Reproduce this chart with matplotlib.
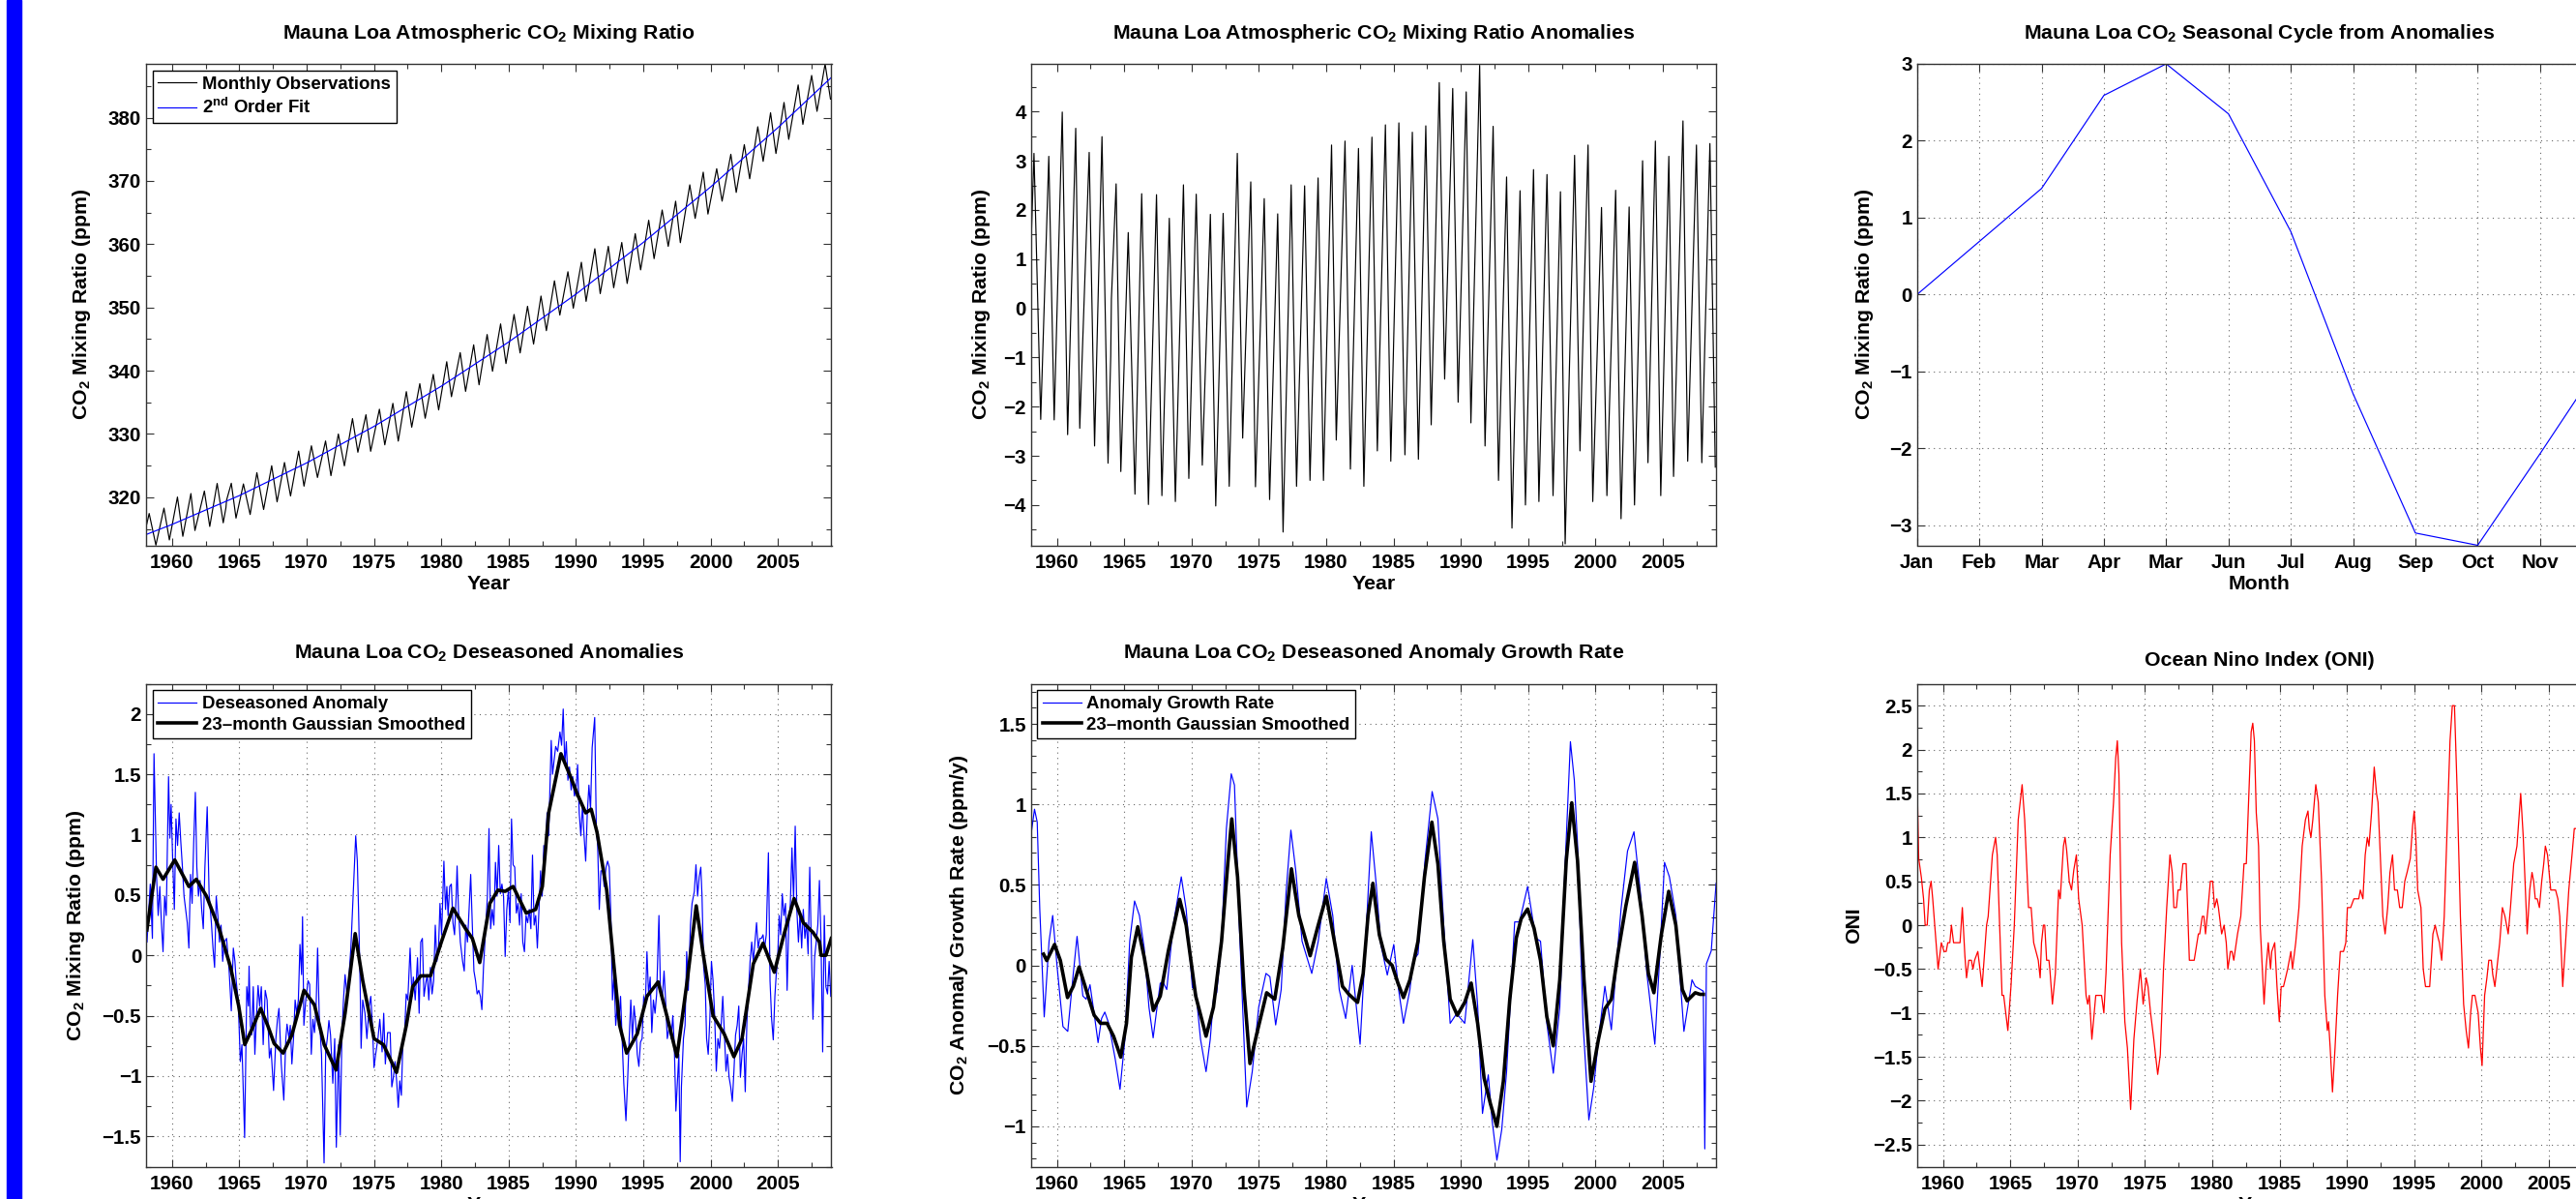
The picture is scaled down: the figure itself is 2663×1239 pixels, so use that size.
# Mauna Loa CO2 six panel figure (MATLAB style look)
import matplotlib
matplotlib.use("Agg")
import matplotlib.pyplot as plt
from matplotlib import font_manager
from matplotlib.patches import Rectangle
from matplotlib.ticker import MultipleLocator, FuncFormatter, FixedLocator

# ---------------- data ----------------

# panel 1 : 2nd order fit, read at a few years
fit_year = [1958.07, 1960, 1965, 1970, 1975, 1980, 1985, 1990, 1995, 2000, 2005, 2008.97]
fit_ppm = [314.1, 315.70, 320.26, 325.43, 331.20, 337.56, 344.54, 352.11, 360.28, 369.05, 378.43, 386.37]

# panels 1 and 2 : seasonal maxima / minima of the monthly record
obs_year = [1958.12, 1958.3, 1958.8, 1959.4, 1959.8, 1960.4, 1960.8, 1961.4, 1961.7, 1962.4, 1962.8,
            1963.35, 1963.8, 1964.0, 1964.05, 1964.4, 1964.75, 1965.3, 1965.8, 1966.3, 1966.8,
            1967.4, 1967.8, 1968.35, 1968.8, 1969.4, 1969.8, 1970.35, 1970.8, 1971.4, 1971.8,
            1972.35, 1972.8, 1973.4, 1973.8, 1974.4, 1974.75, 1975.4, 1975.8, 1976.4, 1976.8,
            1977.4, 1977.8, 1978.4, 1978.8, 1979.4, 1979.8, 1980.4, 1980.75, 1981.4, 1981.8,
            1982.4, 1982.8, 1983.4, 1983.8, 1984.4, 1984.8, 1985.4, 1985.85, 1986.4, 1986.85,
            1987.4, 1987.8, 1988.4, 1988.8, 1989.4, 1989.8, 1990.4, 1990.75, 1991.4, 1991.8,
            1992.4, 1992.8, 1993.4, 1993.8, 1994.4, 1994.8, 1995.4, 1995.8, 1996.4, 1996.85,
            1997.4, 1997.75, 1998.45, 1998.85, 1999.45, 1999.8, 2000.45, 2000.85, 2001.5, 2001.9,
            2002.5, 2002.9, 2003.5, 2003.9, 2004.45, 2004.85, 2005.45, 2005.8, 2006.5, 2006.85,
            2007.5, 2007.9, 2008.5, 2008.9]
obs_ppm = [315.74, 317.43, 312.43, 318.28, 313.25, 320.03, 313.82, 320.58, 314.74, 320.98, 315.38,
           322.18, 315.96, 318.32, 319.54, 322.21, 316.70, 322.10, 317.27, 323.88, 318.06,
           324.98, 319.27, 325.49, 320.20, 327.29, 321.75, 328.13, 323.12, 328.89, 323.41,
           329.99, 324.96, 332.43, 327.11, 333.04, 327.26, 333.91, 328.28, 334.84, 328.87,
           336.69, 331.07, 337.95, 332.48, 339.42, 333.80, 341.42, 335.89, 342.86, 336.73,
           344.09, 337.77, 345.72, 339.91, 347.40, 341.13, 348.89, 342.81, 350.18, 344.21,
           351.80, 346.33, 354.21, 348.79, 355.64, 349.88, 357.14, 350.96, 359.28, 352.18,
           359.66, 353.11, 360.27, 353.79, 361.66, 355.94, 363.78, 357.71, 365.40, 359.65,
           366.79, 360.24, 369.38, 364.08, 371.38, 364.76, 371.93, 366.80, 374.21, 368.18,
           375.73, 370.34, 378.56, 373.09, 380.77, 374.33, 382.40, 376.57, 385.17, 378.94,
           386.67, 381.00, 388.50, 382.93]
anom_ppm = [1.60, 3.15, -2.26, 3.09, -2.27, 3.99, -2.57, 3.66, -2.44, 3.17, -2.80,
            3.49, -3.15, -0.98, 0.19, 2.53, -3.32, 1.54, -3.78, 2.33, -3.99,
            2.31, -3.81, 1.83, -3.93, 2.51, -3.46, 2.32, -3.19, 1.91, -4.02,
            1.93, -3.62, 3.15, -2.64, 2.57, -3.63, 2.23, -3.89, 1.92, -4.55,
            2.51, -3.62, 2.49, -3.50, 2.65, -3.50, 3.32, -2.68, 3.40, -3.27,
            3.25, -3.62, 3.48, -2.90, 3.73, -3.11, 3.77, -2.98, 3.58, -3.07,
            3.71, -2.37, 4.59, -1.44, 4.47, -1.91, 4.40, -2.33, 4.94, -2.80,
            3.70, -3.50, 2.67, -4.47, 2.39, -4.00, 2.82, -3.93, 2.72, -3.81,
            2.37, -4.79, 3.11, -2.90, 3.32, -3.93, 2.05, -3.81, 2.40, -4.28,
            2.06, -4.00, 3.00, -3.14, 3.40, -3.81, 3.09, -3.42, 3.81, -3.11,
            3.32, -3.14, 3.35, -3.23]

# panel 3 : mean seasonal cycle
months = ['Jan', 'Feb', 'Mar', 'Apr', 'Mar', 'Jun', 'Jul', 'Aug', 'Sep', 'Oct', 'Nov', 'Dec']
season = [0.0, 0.69, 1.38, 2.59, 3.0, 2.35, 0.82, -1.29, -3.10, -3.26, -2.07, -0.85]

# panel 4 : deseasoned anomaly (blue) and smoothed (black)
des_year = [1958.14, 1958.38, 1958.54, 1958.66, 1958.85, 1958.97, 1959.09, 1959.21, 1959.33, 1959.45,
            1959.57, 1959.74, 1959.84, 1959.93, 1960.05, 1960.17, 1960.29, 1960.41, 1960.53, 1960.65,
            1960.77, 1960.89, 1961.01, 1961.13, 1961.25, 1961.37, 1961.49, 1961.61, 1961.73, 1961.84,
            1961.96, 1962.08, 1962.20, 1962.32, 1962.44, 1962.61, 1962.75, 1962.92, 1963.04, 1963.16,
            1963.28, 1963.40, 1963.52, 1963.64, 1963.76, 1963.88, 1964.05, 1964.24, 1964.40, 1964.55,
            1964.67, 1964.76, 1964.91, 1965.07, 1965.19, 1965.39, 1965.55, 1965.67, 1965.72, 1965.82,
            1965.91, 1966.03, 1966.15, 1966.27, 1966.39, 1966.51, 1966.63, 1966.77, 1966.92, 1967.06,
            1967.23, 1967.35, 1967.54, 1967.71, 1967.83, 1967.94, 1968.11, 1968.30, 1968.45, 1968.54,
            1968.69, 1968.78, 1968.90, 1969.02, 1969.14, 1969.26, 1969.38, 1969.50, 1969.62, 1969.69,
            1969.79, 1969.93, 1970.10, 1970.22, 1970.34, 1970.46, 1970.58, 1970.70, 1970.81, 1970.93,
            1971.10, 1971.29, 1971.41, 1971.53, 1971.65, 1971.77, 1971.94, 1972.08, 1972.20, 1972.37,
            1972.49, 1972.61, 1972.73, 1972.85, 1972.97, 1973.09, 1973.28, 1973.45, 1973.64, 1973.76,
            1973.85, 1973.97, 1974.04, 1974.16, 1974.33, 1974.47, 1974.64, 1974.76, 1974.88, 1975.00,
            1975.12, 1975.29, 1975.43, 1975.60, 1975.72, 1975.84, 1976.01, 1976.20, 1976.32, 1976.44,
            1976.56, 1976.68, 1976.80, 1976.91, 1977.03, 1977.15, 1977.27, 1977.39, 1977.51, 1977.68,
            1977.82, 1977.92, 1978.06, 1978.23, 1978.35, 1978.47, 1978.59, 1978.71, 1978.83, 1978.95,
            1979.07, 1979.19, 1979.31, 1979.43, 1979.55, 1979.67, 1979.79, 1979.90, 1980.02, 1980.19,
            1980.31, 1980.41, 1980.50, 1980.62, 1980.74, 1980.86, 1980.98, 1981.10, 1981.17, 1981.27,
            1981.41, 1981.58, 1981.70, 1981.82, 1981.94, 1982.06, 1982.18, 1982.30, 1982.42, 1982.54,
            1982.66, 1982.78, 1982.90, 1983.01, 1983.13,
            1983.30, 1983.42, 1983.54, 1983.66, 1983.78, 1983.90, 1984.02, 1984.14, 1984.26, 1984.38,
            1984.50, 1984.62, 1984.74, 1984.86, 1984.98, 1985.10, 1985.21, 1985.33, 1985.45, 1985.57,
            1985.69, 1985.81, 1985.93, 1986.05, 1986.17, 1986.29, 1986.41, 1986.53, 1986.65, 1986.77,
            1986.89, 1987.01, 1987.13, 1987.25, 1987.37, 1987.49, 1987.61, 1987.73, 1987.85, 1987.97,
            1988.16, 1988.26, 1988.40, 1988.49, 1988.64, 1988.81, 1988.93, 1989.05, 1989.17, 1989.28,
            1989.40, 1989.52, 1989.64, 1989.76, 1989.88, 1990.00, 1990.12, 1990.24, 1990.36, 1990.48,
            1990.60, 1990.72, 1990.84, 1990.96, 1991.08, 1991.20, 1991.39, 1991.51, 1991.61, 1991.73,
            1991.85, 1991.99, 1992.09, 1992.23, 1992.35, 1992.47, 1992.59, 1992.71, 1992.83, 1992.95,
            1993.07, 1993.19, 1993.31, 1993.43, 1993.55, 1993.71, 1993.83, 1993.95, 1994.07, 1994.19,
            1994.31, 1994.43, 1994.55, 1994.67, 1994.79, 1994.91, 1995.03, 1995.15, 1995.27, 1995.39,
            1995.51, 1995.63, 1995.75, 1995.87, 1995.99, 1996.16, 1996.28, 1996.40, 1996.54, 1996.63,
            1996.78, 1996.95, 1997.07, 1997.19, 1997.30, 1997.42, 1997.54, 1997.64, 1997.74, 1997.83,
            1997.98, 1998.10, 1998.22, 1998.34, 1998.50, 1998.62, 1998.79, 1998.91, 1999.03, 1999.15,
            1999.27, 1999.36, 1999.48, 1999.60, 1999.70, 1999.82, 1999.94, 2000.06, 2000.18, 2000.30,
            2000.42, 2000.54, 2000.66, 2000.78, 2000.90, 2001.02, 2001.14, 2001.25, 2001.37, 2001.49,
            2001.61, 2001.73, 2001.85, 2001.97, 2002.09, 2002.21, 2002.33, 2002.45, 2002.57, 2002.69,
            2002.81, 2002.93, 2003.05, 2003.17, 2003.29, 2003.41, 2003.53, 2003.65, 2003.77, 2003.89,
            2004.01, 2004.13, 2004.29, 2004.41, 2004.53, 2004.65, 2004.77, 2004.87, 2004.97, 2005.09,
            2005.20, 2005.32, 2005.44, 2005.56, 2005.68, 2005.80, 2005.92, 2006.04, 2006.16, 2006.28,
            2006.40, 2006.52, 2006.64, 2006.76, 2006.88, 2007.00, 2007.12, 2007.24, 2007.36, 2007.48,
            2007.60, 2007.72, 2007.84, 2007.96, 2008.08, 2008.20, 2008.32, 2008.44, 2008.56, 2008.68,
            2008.80, 2008.92]
des_ppm = [0.11, 0.59, 0.14, 1.67, 0.65, 0.33, 0.57, 0.27, 0.03, 0.49,
           0.33, 1.48, 0.97, 1.25, 0.78, 0.38, 1.13, 0.91, 1.18, 0.94,
           0.73, 0.49, 0.38, 0.27, 0.06, 0.67, 0.43, 0.94, 1.35, 0.73,
           0.49, 0.62, 0.38, 0.22, 0.73, 1.23, 0.51, 0.27, 0.06, -0.10,
           0.49, 0.33, 0.11, 0.25, -0.05, 0.11, 0.14, -0.13, -0.46, 0.06,
           -0.05, -0.21, -0.37, -0.88, -0.74, -1.51, -0.26, -0.42, -0.09, -0.58,
           -0.66, -0.26, -0.82, -0.50, -0.25, -0.42, -0.26, -0.74, -0.29, -0.37,
           -0.85, -0.77, -1.12, -0.69, -0.53, -0.44, -0.90, -1.20, -0.69, -0.57,
           -0.69, -0.58, -0.90, -0.69, -0.37, -0.48, -0.37, 0.09, -0.16, 0.32,
           -0.58, -0.37, -0.21, -0.24, -0.82, -0.53, -0.64, -0.42, 0.06, -0.50,
           -0.82, -1.72, -0.80, -0.69, -0.54, -0.66, -1.06, -0.69, -1.59, -0.74,
           -1.49, -0.69, -0.37, -0.16, -0.30, -0.26, 0.06, 0.49, 0.99, 0.78,
           0.38, -0.24, -0.77, -0.37, -0.48, -0.69, -0.42, -0.34, -0.58, -0.93,
           -0.82, -0.69, -0.53, -0.80, -0.48, -0.90, -0.64, -0.64, -1.09, -1.01,
           -0.88, -1.04, -1.26, -1.04, -1.16, -0.69, -0.66, -0.32, -0.37, 0.06,
           -0.34, -0.18, -0.37, -0.02, -0.48, 0.11, 0.14, -0.34, -0.24, -0.16,
           -0.37, -0.10, -0.32, -0.21, 0.25, -0.05, 0.06, 0.43, 0.17, 0.78,
           0.38, 0.57, 0.33, 0.57, 0.59, 0.27, 0.17, 0.49, 0.74, 0.38,
           0.11, -0.05, -0.13, 0.25, 0.11, 0.38, 0.67, 0.25, -0.13, -0.21,
           -0.32, -0.29, -0.34, -0.45, -0.10,
           0.25, 0.49, 1.05, 0.22, 0.38, 0.25, 0.77, 0.49, 0.91, 0.51,
           0.59, 0.49, -0.01, 0.38, 0.54, 0.27, 1.13, 0.75, 0.73, 0.35,
           0.43, 0.25, 0.51, 0.11, 0.03, 0.33, 0.27, 0.38, 0.22, 0.83,
           0.25, 0.33, 0.06, 0.38, 0.70, 0.49, 0.91, 0.83, 1.18, 0.99,
           1.78, 1.50, 1.64, 1.73, 1.69, 1.85, 1.74, 2.04, 1.58, 1.77,
           1.45, 1.56, 1.37, 1.48, 1.32, 1.37, 1.58, 1.18, 0.99, 1.24,
           0.99, 0.78, 1.18, 1.41, 1.21, 1.72, 1.97, 1.05, 0.91, 0.38,
           0.70, 0.70, 0.57, 0.73, 0.78, 0.73, 0.33, -0.37, -0.16, -0.58,
           -0.42, -0.56, -0.34, -0.69, -1.06, -1.37, -1.05, -0.69, -0.37, -0.69,
           -0.42, -0.56, -0.82, -0.92, -0.72, -0.69, -0.34, -0.42, 0.03, -0.32,
           -0.18, -0.64, -0.37, -0.48, -0.32, 0.33, -0.32, -0.37, -0.13, -0.32,
           -0.69, -0.58, -0.69, -0.50, -0.74, -1.29, -1.04, -0.82, -1.71, -1.09,
           -0.69, -0.58, 0.03, -0.29, 0.25, 0.43, 0.53, 0.75, 0.49, 0.65,
           0.73, 0.49, -0.10, -0.24, -0.69, -0.82, -0.53, -0.05, -0.21, -0.50,
           -0.96, -0.69, -0.77, -0.58, -0.34, -0.64, -0.96, -0.82, -1.01, -1.09,
           -1.21, -0.96, -0.66, -0.58, -0.42, -1.01, -0.82, -0.69, -1.13, -0.56,
           -0.29, -0.05, 0.11, -0.05, 0.11, 0.27, 0.06, 0.14, 0.14, 0.17,
           0.06, 0.17, 0.85, -0.21, -0.53, -0.70, -0.34, -0.16, -0.05, 0.33,
           0.17, 0.51, 0.33, 0.43, -0.29, 0.25, 0.43, 0.89, 0.46, 1.07,
           0.38, 0.11, 0.35, 0.06, 0.38, 0.14, 0.27, 0.01, 0.73, 0.06,
           -0.53, -0.02, 0.11, 0.25, 0.62, 0.11, -0.80, 0.33, -0.26, -0.32,
           -0.05, -0.34]

smo_year = [1958.13, 1958.8, 1959.33, 1960.2, 1961.25, 1961.8, 1962.56, 1963.5, 1964.35, 1964.95,
            1965.4, 1965.9, 1966.58, 1967.1, 1967.58, 1968.25, 1968.9, 1969.8, 1970.57, 1971.3,
            1972.18, 1972.85, 1973.6, 1974.16, 1975.0, 1975.7, 1976.67, 1977.4, 1977.87, 1978.47,
            1979.19, 1980.0, 1980.86, 1981.8, 1982.3, 1982.85, 1983.6, 1984.2, 1984.74, 1985.33,
            1986.3, 1987.0, 1987.5, 1987.97, 1988.88, 1989.52, 1990.12, 1990.72, 1991.13, 1991.56,
            1992.28, 1992.88, 1993.24, 1993.76, 1994.55, 1995.27, 1996.1, 1996.7, 1997.5, 1998.26,
            1998.93, 1999.46, 2000.18, 2001.0, 2001.73, 2002.33, 2003.17, 2003.89, 2004.73, 2005.44,
            2006.2, 2006.88, 2007.6, 2008.08, 2008.2, 2008.56, 2008.96]
smo_ppm = [0.21, 0.73, 0.63, 0.79, 0.57, 0.63, 0.49, 0.22, -0.10, -0.42,
           -0.74, -0.62, -0.44, -0.58, -0.73, -0.81, -0.66, -0.29, -0.41, -0.74,
           -0.95, -0.48, 0.18, -0.21, -0.69, -0.74, -0.97, -0.58, -0.26, -0.17,
           -0.17, 0.11, 0.39, 0.22, 0.14, -0.06, 0.43, 0.54, 0.53, 0.57,
           0.35, 0.38, 0.57, 1.18, 1.67, 1.50, 1.33, 1.18, 1.21, 1.02,
           0.54, -0.16, -0.58, -0.81, -0.65, -0.34, -0.22, -0.48, -0.84, -0.21,
           0.41, 0.0, -0.50, -0.65, -0.84, -0.69, -0.07, 0.10, -0.14, 0.17,
           0.47, 0.27, 0.19, 0.11, 0.0, 0.0, 0.14]

# panel 5 : growth rate of the deseasoned anomaly (blue) and smoothed (black)
gr_year = [1958.06, 1958.34, 1958.54, 1958.73, 1959.06, 1959.42, 1959.69, 1960.02, 1960.45, 1960.81,
           1961.22, 1961.50, 1961.93, 1962.17, 1962.46, 1962.77, 1963.06, 1963.32, 1963.56, 1963.85,
           1964.33, 1964.69, 1965.05, 1965.41, 1965.77, 1966.13, 1966.48, 1966.84, 1967.15, 1967.44,
           1967.68, 1967.92, 1968.16, 1968.64, 1969.24, 1969.60, 1970.07, 1970.31, 1970.67, 1971.08,
           1971.39, 1971.63, 1971.87, 1972.23, 1972.59, 1972.95, 1973.19, 1973.55, 1974.10, 1974.51,
           1974.99, 1975.53, 1975.82, 1976.25, 1976.66, 1977.02, 1977.38, 1977.74, 1978.21, 1978.93,
           1979.41, 1980.01, 1980.49, 1980.97, 1981.45, 1981.93, 1982.24, 1982.52, 1982.87, 1983.35,
           1983.71, 1984.06, 1984.54, 1985.02, 1985.38, 1985.74, 1986.22, 1986.46, 1986.82, 1987.34,
           1987.87, 1988.30, 1988.73, 1989.21, 1989.69, 1990.29, 1990.89, 1991.25, 1991.61, 1992.04,
           1992.32, 1992.68, 1993.04, 1993.40, 1994.00, 1994.36, 1994.96, 1995.56, 1995.92, 1996.39,
           1996.87, 1997.35, 1997.71, 1998.14, 1998.43, 1998.67, 1999.08, 1999.51, 1999.87, 2000.22,
           2000.70, 2001.18, 2001.54, 2001.90, 2002.38, 2002.86, 2003.34, 2003.82, 2004.41, 2004.77,
           2005.13, 2005.49, 2005.97, 2006.26, 2006.57, 2007.17, 2007.41, 2008.01, 2008.12, 2008.24,
           2008.60, 2008.96]
gr_rate = [0.80, 0.97, 0.89, 0.35, -0.32, 0.15, 0.31, -0.01, -0.38, -0.41,
           -0.05, 0.18, -0.19, -0.21, -0.12, -0.30, -0.48, -0.33, -0.29, -0.36,
           -0.58, -0.77, -0.46, 0.15, 0.40, 0.31, 0.11, -0.26, -0.45, -0.26,
           -0.11, -0.11, -0.15, 0.25, 0.55, 0.35, -0.14, -0.15, -0.46, -0.66,
           -0.46, -0.21, -0.17, 0.15, 0.85, 1.19, 1.12, 0.25, -0.88, -0.66,
           -0.26, -0.05, -0.07, -0.37, -0.15, 0.45, 0.84, 0.59, 0.15, -0.05,
           0.15, 0.54, 0.31, -0.15, -0.33, 0.00, -0.26, -0.49, 0.05, 0.83,
           0.51, 0.13, -0.06, 0.13, -0.15, -0.36, -0.15, 0.03, 0.07, 0.65,
           1.08, 0.91, 0.25, -0.36, -0.30, -0.36, 0.16, -0.25, -0.92, -0.68,
           -0.96, -1.21, -1.02, -0.66, 0.27, 0.27, 0.49, 0.17, 0.15, -0.36,
           -0.67, -0.26, 0.55, 1.39, 1.15, 0.75, -0.36, -0.96, -0.76, -0.46,
           -0.13, -0.40, -0.01, 0.35, 0.71, 0.83, 0.45, -0.05, -0.49, 0.05,
           0.64, 0.55, 0.31, -0.05, -0.41, -0.09, -0.13, -0.16, -1.14, 0.01,
           0.09, 0.51]

grs_year = [1959.01, 1959.25, 1959.83, 1960.26, 1960.79, 1961.22, 1961.65, 1962.17, 1962.77, 1963.25,
            1963.73, 1964.21, 1964.74, 1965.17, 1965.53, 1966.01, 1966.49, 1967.16, 1967.68, 1968.28,
            1969.12, 1969.60, 1970.31, 1971.08, 1971.63, 1972.23, 1972.71, 1972.99, 1973.42, 1973.90,
            1974.34, 1974.86, 1975.58, 1976.18, 1976.78, 1977.42, 1977.97, 1978.81, 1979.41, 1980.01,
            1980.61, 1981.21, 1981.69, 1982.33, 1982.75, 1983.11, 1983.47, 1983.95, 1984.42, 1984.90,
            1985.33, 1985.74, 1986.22, 1986.82, 1987.30, 1987.85, 1988.30, 1988.73, 1989.21, 1989.74,
            1990.29, 1990.77, 1991.25, 1991.73, 1992.20, 1992.68, 1993.16, 1993.64, 1994.12, 1994.48,
            1994.96, 1995.44, 1995.92, 1996.39, 1996.87, 1997.35, 1997.83, 1998.24, 1998.67, 1999.15,
            1999.67, 2000.22, 2000.70, 2001.18, 2001.66, 2002.26, 2002.91, 2003.46, 2003.93, 2004.34,
            2004.89, 2005.44, 2005.97, 2006.45, 2006.81, 2007.41, 2007.77, 2008.01]
grs_rate = [0.07, 0.03, 0.13, 0.03, -0.20, -0.13, -0.01, -0.15, -0.31, -0.36,
            -0.36, -0.44, -0.57, -0.36, 0.05, 0.24, 0.05, -0.28, -0.19, 0.09,
            0.41, 0.25, -0.19, -0.44, -0.26, 0.15, 0.65, 0.91, 0.55, -0.15,
            -0.61, -0.42, -0.17, -0.21, 0.11, 0.60, 0.31, 0.06, 0.25, 0.43,
            0.15, -0.13, -0.18, -0.23, -0.05, 0.31, 0.51, 0.19, 0.04, 0.00,
            -0.11, -0.20, -0.09, 0.15, 0.55, 0.89, 0.63, 0.15, -0.21, -0.31,
            -0.23, -0.11, -0.36, -0.70, -0.86, -1.00, -0.72, -0.21, 0.17, 0.29,
            0.35, 0.23, 0.03, -0.32, -0.50, -0.09, 0.65, 1.01, 0.65, -0.09,
            -0.72, -0.46, -0.27, -0.21, 0.07, 0.37, 0.64, 0.31, -0.05, -0.17,
            0.19, 0.46, 0.25, -0.15, -0.22, -0.17, -0.18, -0.18]

# panel 6 : Ocean Nino Index
oni_year = [1958.07, 1958.20, 1958.40, 1958.56, 1958.68, 1958.83, 1958.99, 1959.12, 1959.24, 1959.64,
            1959.88, 1960.08, 1960.24, 1960.36, 1960.51, 1960.63, 1960.79, 1961.27, 1961.44, 1961.63,
            1961.75, 1961.92, 1962.11, 1962.23, 1962.35, 1962.59, 1962.91, 1963.24, 1963.36, 1963.67,
            1963.79, 1963.91, 1964.03, 1964.39, 1964.51, 1964.82, 1965.06, 1965.30, 1965.59, 1965.88,
            1966.07, 1966.36, 1966.55, 1966.74, 1966.91, 1967.08, 1967.22, 1967.32, 1967.46, 1967.56,
            1967.70, 1967.87, 1967.94, 1968.13, 1968.35, 1968.59, 1968.71, 1968.95, 1969.07, 1969.19,
            1969.38, 1969.55, 1969.72, 1969.91, 1970.08, 1970.34, 1970.63, 1970.75, 1970.87, 1971.06,
            1971.35, 1971.59, 1971.78, 1971.95, 1972.11, 1972.42, 1972.67, 1972.83, 1972.95, 1973.07,
            1973.27, 1973.51, 1973.70, 1973.94, 1974.18, 1974.42, 1974.66, 1974.87, 1975.09, 1975.23,
            1975.42, 1975.66, 1975.95, 1976.14, 1976.38, 1976.62, 1976.86, 1977.03, 1977.15, 1977.34,
            1977.46, 1977.63, 1977.82, 1978.06, 1978.30, 1978.66, 1978.97, 1979.07, 1979.26, 1979.38,
            1979.50, 1979.69, 1979.86, 1980.03, 1980.17, 1980.34, 1980.46, 1980.70, 1980.88, 1981.04,
            1981.16, 1981.35, 1981.47, 1981.60, 1981.88, 1982.12, 1982.36, 1982.53, 1982.72, 1982.89,
            1983.01, 1983.13, 1983.27, 1983.44, 1983.56, 1983.85, 1983.99, 1984.16, 1984.33, 1984.42,
            1984.64, 1984.81, 1984.98, 1985.12, 1985.29, 1985.60, 1985.84, 1985.96, 1986.20, 1986.44,
            1986.68, 1986.92, 1987.11, 1987.21, 1987.33, 1987.47, 1987.69, 1987.88, 1988.12, 1988.36,
            1988.55, 1988.64, 1988.76, 1988.93, 1989.12, 1989.31, 1989.51, 1989.75, 1989.92, 1990.04,
            1990.28, 1990.52, 1990.88, 1991.00, 1991.19, 1991.36, 1991.52, 1991.64, 1991.83, 1992.03,
            1992.20, 1992.31, 1992.48, 1992.67, 1992.84, 1993.03, 1993.20, 1993.39, 1993.54, 1993.75,
            1993.92, 1994.11, 1994.30, 1994.47, 1994.71, 1994.88, 1995.00, 1995.12, 1995.26, 1995.50,
            1995.67, 1995.84, 1996.15, 1996.39, 1996.56, 1996.70, 1996.87, 1997.04, 1997.23, 1997.47,
            1997.66, 1997.83, 1997.99, 1998.19, 1998.43, 1998.67, 1998.86, 1999.03, 1999.19, 1999.32,
            1999.51, 1999.63, 1999.75, 1999.92, 2000.04, 2000.23, 2000.40, 2000.54, 2000.73, 2000.83,
            2000.99, 2001.19, 2001.35, 2001.55, 2001.74, 2001.98, 2002.15, 2002.39, 2002.63, 2002.91,
            2003.10, 2003.23, 2003.39, 2003.58, 2003.75, 2003.87, 2003.99, 2004.14, 2004.30, 2004.47,
            2004.62, 2004.74, 2004.90, 2005.14, 2005.50, 2005.67, 2005.81, 2006.03, 2006.24, 2006.48,
            2006.72, 2006.89, 2007.04]
oni = [1.72, 0.76, 0.54, 0.30, 0.00, 0.00, 0.40, 0.50, 0.30, -0.50,
       -0.20, -0.30, -0.30, -0.20, -0.20, 0.00, -0.20, -0.20, 0.20, -0.35,
       -0.60, -0.40, -0.40, -0.50, -0.40, -0.30, -0.70, 0.00, 0.10, 0.80,
       0.90, 1.00, 0.80, -0.80, -0.80, -1.20, -0.68, 0.00, 1.20, 1.60,
       1.20, 0.20, 0.20, -0.20, -0.30, -0.40, -0.60, -0.20, 0.00, 0.00,
       -0.40, -0.40, -0.50, -0.90, -0.55, 0.40, 0.30, 0.90, 1.00, 0.85,
       0.50, 0.40, 0.63, 0.80, 0.30, 0.00, -0.80, -0.90, -0.80, -1.30,
       -0.80, -0.80, -0.80, -1.00, -0.55, 0.80, 1.40, 1.90, 2.10, 1.72,
       -0.20, -1.10, -1.40, -2.10, -1.30, -0.86, -0.50, -0.90, -0.60, -0.70,
       -1.00, -1.30, -1.70, -1.48, -0.50, 0.20, 0.80, 0.60, 0.20, 0.20,
       0.40, 0.40, 0.70, 0.70, -0.40, -0.40, -0.10, -0.10, 0.10, 0.10,
       -0.10, 0.20, 0.50, 0.50, 0.20, 0.30, 0.20, -0.10, 0.00, -0.20,
       -0.50, -0.30, -0.30, -0.40, -0.10, 0.10, 0.70, 0.70, 1.50, 2.20,
       2.30, 2.10, 1.28, 0.90, 0.00, -0.90, -0.50, -0.20, -0.50, -0.30,
       -0.20, -0.70, -1.10, -0.70, -0.70, -0.50, -0.30, -0.50, -0.20, 0.20,
       0.90, 1.20, 1.30, 1.10, 1.00, 1.20, 1.60, 1.40, 0.50, -0.80,
       -1.20, -1.10, -1.40, -1.90, -1.40, -0.80, -0.30, -0.30, -0.20, 0.20,
       0.20, 0.30, 0.30, 0.40, 0.30, 0.80, 1.00, 0.90, 1.28, 1.80,
       1.50, 1.40, 0.80, 0.10, -0.10, 0.20, 0.60, 0.80, 0.40, 0.40,
       0.20, 0.20, 0.50, 0.60, 0.76, 1.13, 1.30, 1.00, 0.40, 0.20,
       -0.50, -0.70, -0.70, -0.10, 0.00, -0.10, -0.20, -0.40, 0.10, 1.20,
       2.10, 2.50, 2.50, 1.53, 0.10, -0.90, -1.20, -1.40, -1.00, -0.80,
       -0.80, -0.90, -1.00, -1.40, -1.60, -0.80, -0.60, -0.40, -0.40, -0.56,
       -0.70, -0.42, -0.20, 0.20, 0.10, -0.10, 0.20, 0.70, 0.90, 1.50,
       1.00, 0.50, -0.10, 0.40, 0.60, 0.50, 0.30, 0.30, 0.20, 0.50,
       0.70, 0.90, 0.80, 0.40, 0.40, 0.30, 0.10, -0.70, -0.20, 0.40,
       0.80, 1.10, 1.10]

# ---------------- style ----------------
W, H = 2663, 1239
names = {f.name for f in font_manager.fontManager.ttflist}
main_font = 'Liberation Sans' if 'Liberation Sans' in names else 'DejaVu Sans'

plt.rcParams['font.family'] = [main_font, 'DejaVu Sans']
plt.rcParams['font.weight'] = 'bold'
plt.rcParams['mathtext.fontset'] = 'custom'
plt.rcParams['mathtext.bf'] = main_font + ':bold'
plt.rcParams['mathtext.rm'] = main_font + ':bold'
plt.rcParams['axes.linewidth'] = 1.0
plt.rcParams['axes.edgecolor'] = '#333333'

TICK = 14.8      # tick labels
LAB = 15.3       # titles and axis labels
LEG = 13.4       # legend text
CO2 = r'CO$_\mathbf{2}$'
blue = (0, 0, 1)
red = (1, 0, 0)

fig = plt.figure(figsize=(W / 100, H / 100), dpi=100)
# blue strip on the left edge
fig.patches.append(Rectangle((7 / W, 0), 15 / W, 1, transform=fig.transFigure,
                             color=blue, zorder=0))

col_left = [151, 1065.7, 1981.7]
ax_w = 708.5


def make_axes(col, row):
    if row == 0:
        bottom, height = 563.5, 497.5
    else:
        bottom, height = 1205.5, 499
    return fig.add_axes([col_left[col] / W, 1 - bottom / H, ax_w / W, height / H])


def num(v, pos):
    return ('%g' % v).replace('-', '\u2212')


def style(ax, ylab, ylab_off, title, title_pad=19, xlab='Year', grid=False):
    ax.tick_params(which='both', direction='in', top=True, right=True,
                   labelsize=TICK, color='#333333', width=0.8)
    ax.tick_params(which='major', length=5.5)
    ax.tick_params(which='minor', length=3.5)
    ax.tick_params(axis='x', which='major', pad=6)
    ax.tick_params(axis='y', which='major', pad=3.5)
    ax.yaxis.set_major_formatter(FuncFormatter(num))
    ax.set_title(title, fontsize=LAB, fontweight='bold', pad=title_pad)
    ax.set_ylabel(ylab, fontsize=LAB, fontweight='bold', va='center')
    ax.yaxis.set_label_coords(-ylab_off / ax_w, 0.5)
    ax.set_xlabel(xlab, fontsize=LAB, fontweight='bold', va='center')
    ax.xaxis.set_label_coords(0.5, -40 / 498)
    if grid:
        ax.grid(True, which='major', color='#666666', linewidth=0.8, linestyle=(0, (1, 4)))
        ax.set_axisbelow(True)


def year_axis(ax):
    ax.set_xlim(1958.07, 2008.97)
    ax.xaxis.set_major_locator(FixedLocator(list(range(1960, 2006, 5))))
    ax.xaxis.set_minor_locator(MultipleLocator(2.5))
    ax.xaxis.set_major_formatter(FuncFormatter(lambda v, p: '%d' % v))


def legend(ax, x0):
    leg = ax.legend(loc='upper left', bbox_to_anchor=(x0, 0.986), borderaxespad=0,
                    fancybox=False, edgecolor='black', framealpha=1, fontsize=LEG,
                    handlelength=2.15, handletextpad=0.3, borderpad=0.3, labelspacing=0.25)
    leg.get_frame().set_linewidth(1.0)


# 1) monthly observations and fit
ax = make_axes(0, 0)
ax.plot(obs_year, obs_ppm, color='black', lw=0.85, label='Monthly Observations')
ax.plot(fit_year, fit_ppm, color=blue, lw=0.85, label=r'2$^{\mathbf{nd}}$ Order Fit')
year_axis(ax)
ax.set_ylim(312.4, 388.5)
ax.yaxis.set_major_locator(MultipleLocator(10))
ax.yaxis.set_minor_locator(MultipleLocator(5))
style(ax, CO2 + ' Mixing Ratio (ppm)', 66, 'Mauna Loa Atmospheric ' + CO2 + ' Mixing Ratio')
legend(ax, 0.0097)

# 2) anomalies
ax = make_axes(1, 0)
ax.plot(obs_year, anom_ppm, color='black', lw=0.85)
year_axis(ax)
ax.set_ylim(-4.82, 4.97)
ax.yaxis.set_major_locator(MultipleLocator(1))
ax.yaxis.set_minor_locator(MultipleLocator(0.5))
style(ax, CO2 + ' Mixing Ratio (ppm)', 51, 'Mauna Loa Atmospheric ' + CO2 + ' Mixing Ratio Anomalies')

# 3) seasonal cycle (the Dec end of this axis lies beyond the right edge of the picture)
ax = make_axes(2, 0)
mon = list(range(1, 13))
ax.plot(mon, season, color=blue, lw=0.85)
ax.set_xlim(1, 12)
ax.set_xticks(mon)
ax.set_xticklabels(months[:-1] + [''])
ax.set_ylim(-3.26, 3.0)
ax.yaxis.set_major_locator(MultipleLocator(1))
style(ax, CO2 + ' Mixing Ratio (ppm)', 54, 'Mauna Loa ' + CO2 + ' Seasonal Cycle from Anomalies',
      xlab='Month', grid=True)

# 4) deseasoned anomalies
ax = make_axes(0, 1)
ax.plot(des_year, des_ppm, color=blue, lw=0.85, label='Deseasoned Anomaly')
ax.plot(smo_year, smo_ppm, color='black', lw=2.6, label='23\u2013month Gaussian Smoothed')
year_axis(ax)
ax.set_ylim(-1.75, 2.25)
ax.yaxis.set_major_locator(MultipleLocator(0.5))
ax.yaxis.set_minor_locator(MultipleLocator(0.25))
style(ax, CO2 + ' Mixing Ratio (ppm)', 72, 'Mauna Loa ' + CO2 + ' Deseasoned Anomalies', grid=True)
legend(ax, 0.0097)

# 5) growth rate
ax = make_axes(1, 1)
ax.plot(gr_year, gr_rate, color=blue, lw=0.85, label='Anomaly Growth Rate')
ax.plot(grs_year, grs_rate, color='black', lw=2.6, label='23\u2013month Gaussian Smoothed')
year_axis(ax)
ax.set_ylim(-1.25, 1.75)
ax.yaxis.set_major_locator(MultipleLocator(0.5))
ax.yaxis.set_minor_locator(MultipleLocator(0.1))
style(ax, CO2 + ' Anomaly Growth Rate (ppm/y)', 74,
      'Mauna Loa ' + CO2 + ' Deseasoned Anomaly Growth Rate', grid=True)
legend(ax, 0.009)

# 6) ONI
ax = make_axes(2, 1)
ax.plot(oni_year, oni, color=red, lw=0.9)
year_axis(ax)
ax.set_ylim(-2.75, 2.75)
ax.yaxis.set_major_locator(MultipleLocator(0.5))
ax.yaxis.set_minor_locator(MultipleLocator(0.25))
style(ax, 'ONI', 65, 'Ocean Nino Index (ONI)', title_pad=13, grid=True)

fig.savefig('out.png', dpi=100)
